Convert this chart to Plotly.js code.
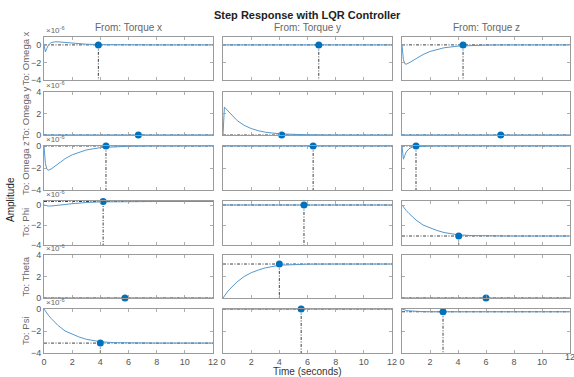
<!DOCTYPE html>
<html><head><meta charset="utf-8">
<script src="https://cdn.plot.ly/plotly-3.0.1.min.js"></script>
<style>html,body{margin:0;padding:0;background:#fff;overflow:hidden}#chart{width:574px;height:377px}</style>
</head><body><div id="chart"></div>
<script>
// Inputs (columns) and outputs (rows)
const inputs = ["Torque x", "Torque y", "Torque z"];
const outputs = ["Omega x", "Omega y", "Omega z", "Phi", "Theta", "Psi"];
// time samples (seconds)
const time = [0, 0.1, 0.2, 0.3, 0.5, 0.75, 1, 1.5, 2, 2.5, 3, 4, 5, 6, 8, 10, 12];
const xTicks = [0, 2, 4, 6, 8, 10, 12];
// responses in units of 1e-6
const zeros = [0,0,0,0,0,0,0,0,0,0,0,0,0,0,0,0,0];
const omegaX_tx = [0,-0.8,-0.4,-0.05,0.25,0.35,0.35,0.28,0.2,0.13,0.08,0.03,0.01,0,0,0,0];
const omegaX_ty = zeros;
const omegaX_tz = [0,-1.7,-2.15,-2.2,-2.05,-1.8,-1.55,-1.1,-0.75,-0.5,-0.33,-0.14,-0.06,-0.02,0,0,0];
const omegaY_tx = zeros;
const omegaY_ty = [0,2.6,2.45,2.3,2.0,1.65,1.35,0.9,0.6,0.4,0.26,0.11,0.04,0.02,0,0,0];
const omegaY_tz = zeros;
const omegaZ_tx = [0,-1.6,-2.1,-2.2,-2.1,-1.85,-1.6,-1.15,-0.8,-0.55,-0.36,-0.15,-0.06,-0.02,0,0,0];
const omegaZ_ty = zeros;
const omegaZ_tz = [0,-1.2,-0.85,-0.55,-0.25,-0.1,-0.04,-0.01,0,0,0,0,0,0,0,0,0];
const phi_tx = [0,-0.04,-0.08,-0.1,-0.1,-0.08,-0.04,0.05,0.13,0.2,0.25,0.31,0.33,0.34,0.35,0.35,0.35];
const phi_ty = zeros;
const phi_tz = [0,-0.2,-0.4,-0.55,-0.85,-1.2,-1.5,-2.0,-2.3,-2.55,-2.75,-2.98,-3.06,-3.09,-3.1,-3.1,-3.1];
const theta_tx = zeros;
const theta_ty = [0,0.2,0.4,0.55,0.85,1.2,1.5,2.0,2.35,2.6,2.8,3.05,3.12,3.15,3.16,3.16,3.16];
const theta_tz = zeros;
const psi_tx = [0,-0.2,-0.4,-0.55,-0.85,-1.2,-1.5,-2.0,-2.3,-2.55,-2.75,-2.98,-3.06,-3.09,-3.1,-3.1,-3.1];
const psi_ty = zeros;
const psi_tz = [0,-0.06,-0.1,-0.13,-0.17,-0.2,-0.22,-0.24,-0.25,-0.25,-0.25,-0.25,-0.25,-0.25,-0.25,-0.25,-0.25];
// steady-state values and settling times per output row, per input column
const steady = [[0,0,0],[0,0,0],[0,0,0],[0.35,0,-3.1],[0,3.16,0],[-3.1,0,-0.25]];
const settle = [[3.86,6.8,4.36],[6.7,4.17,7.05],[4.4,6.4,1.0],[4.2,5.75,4.05],[5.75,4.0,6.0],[4.0,5.55,2.93]];
const yTicksNeg = [-4,-2,0];
const yTicksPos = [0,2,4];

const responses = [
  [omegaX_tx, omegaX_ty, omegaX_tz],
  [omegaY_tx, omegaY_ty, omegaY_tz],
  [omegaZ_tx, omegaZ_ty, omegaZ_tz],
  [phi_tx, phi_ty, phi_tz],
  [theta_tx, theta_ty, theta_tz],
  [psi_tx, psi_ty, psi_tz]
];

const W = 574, H = 377;
const colPx = [[44,213],[223,392],[402,570]];
const rowPx = [[37,80],[92,135],[146,190],[201,245],[255,298],[309,353]];
const rowRange = [[-4,0.9],[0,4],[-4,0],[-4,0.4],[0,4],[-4,0]];
const rowTicks = [yTicksNeg, yTicksPos, yTicksNeg, yTicksNeg, yTicksPos, yTicksNeg];

const lineColor = "rgb(86,152,204)";
const markColor = "#0072BD";
const axisColor = "#9b9b9b";
const FAM = "Liberation Sans, Arial, sans-serif";
const tickFont = {family: FAM, size: 9, color: "#555"};
const dd = "3px,1.5px,1px,1.5px";

const data = [];
const layout = {
  width: W, height: H,
  margin: {l:0, r:0, t:0, b:0},
  paper_bgcolor: "#fff", plot_bgcolor: "#fff",
  showlegend: false,
  annotations: []
};

for (let r = 0; r < 6; r++) {
  for (let c = 0; c < 3; c++) {
    const idx = r*3 + c + 1;
    const xn = idx === 1 ? "x" : "x" + idx;
    const yn = idx === 1 ? "y" : "y" + idx;
    const xk = idx === 1 ? "xaxis" : "xaxis" + idx;
    const yk = idx === 1 ? "yaxis" : "yaxis" + idx;
    const lastCorner = (r === 5 && c === 2);
    layout[xk] = {
      domain: [colPx[c][0]/W, colPx[c][1]/W],
      anchor: yn, range: [0, 12], tickvals: xTicks,
      ticktext: xTicks.map(v => (lastCorner && v === 12) ? "" : String(v)),
      showticklabels: r === 5, tickfont: tickFont, ticklabeloverflow: "allow",
      ticks: "inside", ticklen: 3, tickcolor: axisColor, tickwidth: 0.8,
      showline: true, linecolor: axisColor, linewidth: 1, mirror: "ticks",
      showgrid: false, zeroline: false, fixedrange: true
    };
    layout[yk] = {
      domain: [1 - rowPx[r][1]/H, 1 - rowPx[r][0]/H],
      anchor: xn, range: rowRange[r], tickvals: rowTicks[r],
      showticklabels: c === 0, tickfont: tickFont,
      ticks: "inside", ticklen: 3, tickcolor: axisColor, tickwidth: 0.8,
      showline: true, linecolor: axisColor, linewidth: 1, mirror: "ticks",
      showgrid: false, zeroline: false, fixedrange: true
    };
    const ss = steady[r][c], ts = settle[r][c];
    data.push({type:"scatter", mode:"lines", x:[0,12], y:[ss,ss], xaxis:xn, yaxis:yn,
      line:{color:"#2b2b2b", width:0.9, dash:dd}, hoverinfo:"skip"});
    data.push({type:"scatter", mode:"lines", x:[ts,ts], y:[ss,rowRange[r][0]], xaxis:xn, yaxis:yn,
      line:{color:"#2b2b2b", width:0.9, dash:dd}, hoverinfo:"skip"});
    data.push({type:"scatter", mode:"lines", x:time, y:responses[r][c], xaxis:xn, yaxis:yn,
      line:{color:lineColor, width:1}});
    data.push({type:"scatter", mode:"markers", x:[ts], y:[ss], xaxis:xn, yaxis:yn, cliponaxis:false,
      marker:{color:markColor, size:7}});
    if (lastCorner) {
      // last tick label of the bottom-right axis, drawn as text at the axis end
      const lastTick = xTicks[xTicks.length-1];
      data.push({type:"scatter", mode:"text", x:[lastTick], y:[rowRange[r][0]], xaxis:xn, yaxis:yn,
        cliponaxis:false, text:[String(lastTick)], textposition:"bottom center",
        textfont:{family:FAM, size:9, color:"#555"}, hoverinfo:"skip"});
    }
  }
  layout.annotations.push({xref:"paper", yref:"paper", x:colPx[0][0]/W, y:1 - rowPx[r][0]/H,
    xanchor:"left", yanchor:"bottom", showarrow:false, text:"×10<sup>-6</sup>",
    font:{family:FAM, size:8, color:"#666"}});
  layout.annotations.push({xref:"paper", yref:"paper", x:25/W, y:1 - (rowPx[r][0]+rowPx[r][1])/2/H,
    xanchor:"center", yanchor:"middle", showarrow:false, textangle:-90, text:"To: " + outputs[r],
    font:{family:FAM, size:9.5, color:"#666"}});
}
for (let c = 0; c < 3; c++) {
  layout.annotations.push({xref:"paper", yref:"paper", x:(colPx[c][0]+colPx[c][1])/2/W, y:1 - 35/H,
    xanchor:"center", yanchor:"bottom", showarrow:false, text:"From: " + inputs[c],
    font:{family:FAM, size:10, color:"#666"}});
}
layout.annotations.push({xref:"paper", yref:"paper", x:307/W, y:1 - 15/H, xanchor:"center", yanchor:"middle",
  showarrow:false, text:"<b>Step Response with LQR Controller</b>",
  font:{family:FAM, size:11, color:"#222"}});
layout.annotations.push({xref:"paper", yref:"paper", x:10/W, y:1 - 200/H, xanchor:"center", yanchor:"middle",
  showarrow:false, textangle:-90, text:"Amplitude",
  font:{family:FAM, size:10, color:"#222"}});
layout.annotations.push({xref:"paper", yref:"paper", x:307/W, y:1 - 371/H, xanchor:"center", yanchor:"middle",
  showarrow:false, text:"Time (seconds)",
  font:{family:FAM, size:10, color:"#333"}});

Plotly.newPlot("chart", data, layout, {staticPlot:true, displayModeBar:false});
</script></body></html>
